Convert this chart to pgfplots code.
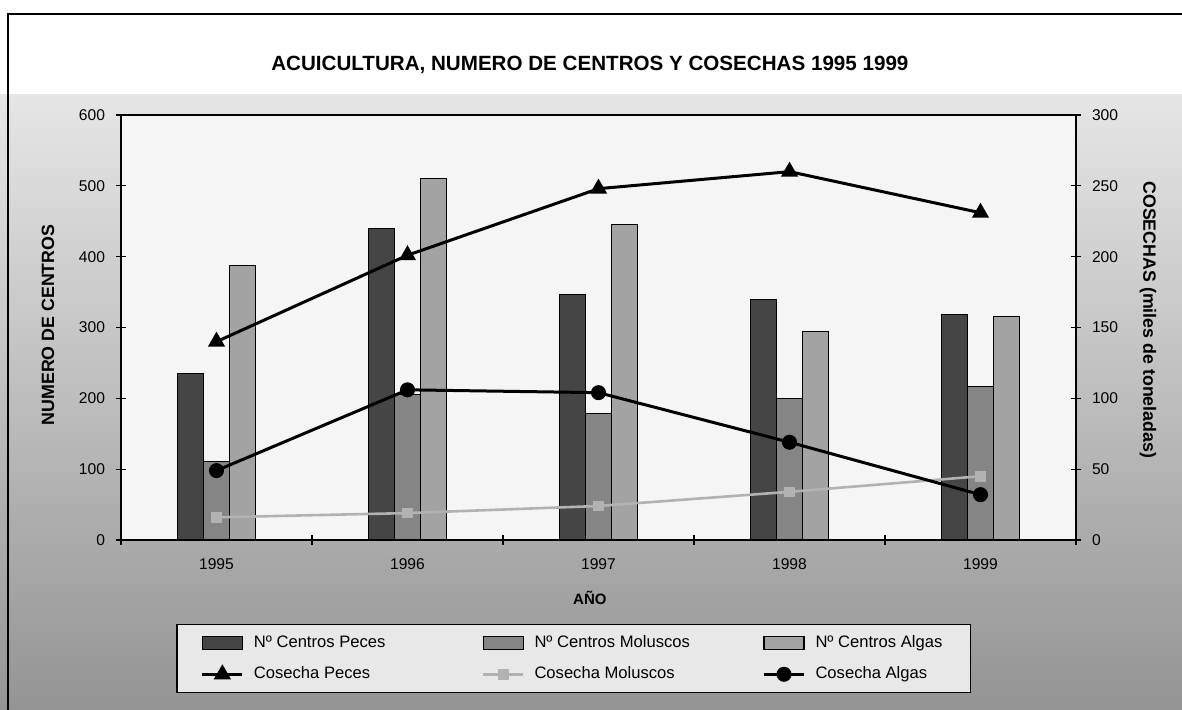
\documentclass[border=0pt]{standalone}
\usepackage{pgfplots}
\pgfplotsset{compat=1.18}
\usepackage{fontspec}
\setmainfont{Liberation Sans}
\definecolor{cPeces}{gray}{0.27}
\definecolor{cMol}{gray}{0.52}
\definecolor{cAlg}{gray}{0.64}
\definecolor{cLMol}{gray}{0.70}
\pgfplotsset{
  barleg/.style={legend image code/.code={\draw[##1] (0pt,-3.25pt) rectangle (20pt,3.25pt);}},
  linleg/.style={legend image code/.code={\draw[##1,mark repeat=2,mark phase=2] plot coordinates {(0pt,0pt)(10pt,0pt)(20pt,0pt)};}},
}
\begin{document}
\begin{tikzpicture}[x=1pt,y=1pt]
\useasboundingbox (0,0) rectangle (591,355);
\fill[white] (0,0) rectangle (591,355);
\shade[top color=black!10, bottom color=black!42] (0,0) rectangle (591,307.5);
\draw[line width=1pt] (4,0) -- (4,348) -- (591,348);

\begin{axis}[
  at={(60.5pt,85pt)}, anchor=south west, scale only axis,
  width=477.5pt, height=212.5pt,
  xmin=-0.5, xmax=4.5, ymin=0, ymax=600,
  axis background/.style={fill=black!4},
  axis line style={line width=0.8pt},
  ybar=0pt, bar width=13pt,
  xtick={-0.5,0.5,1.5,2.5,3.5,4.5},
  xticklabels={1995,1996,1997,1998,1999},
  x tick label as interval,
  ytick={0,100,...,600},
  tick pos=left,
  tick align=center, major tick length=5pt,
  tick style={black, line width=0.6pt},
  /pgf/number format/assume math mode=true,
  ticklabel style={font=\fontsize{7.8}{9}\selectfont},
  x tick label style={yshift=-3.5pt},
  yticklabel style={xshift=-2pt},
  title={\textbf{ACUICULTURA, NUMERO DE CENTROS Y COSECHAS 1995 1999}},
  title style={at={(axis description cs:0.491,1.09)}, anchor=center, yshift=0pt, font=\fontsize{10.3}{12}\selectfont},
  xlabel={\textbf{AÑO}},
  xlabel style={at={(axis description cs:0.491,-0.136)}, anchor=center, font=\fontsize{7.5}{9}\selectfont},
  ylabel={\textbf{NUMERO DE CENTROS}},
  ylabel style={at={(axis description cs:-0.0764,0.506)}, anchor=center, rotate=0, font=\fontsize{8.9}{10}\selectfont},
]
\addplot[fill=cPeces, draw=black, line width=0.5pt] coordinates {(0,235)(1,440)(2,346)(3,340)(4,318)};
\addplot[fill=cMol, draw=black, line width=0.5pt] coordinates {(0,111)(1,206)(2,178)(3,200)(4,217)};
\addplot[fill=cAlg, draw=black, line width=0.5pt] coordinates {(0,388)(1,511)(2,445)(3,295)(4,316)};
\end{axis}

\begin{axis}[
  at={(60.5pt,85pt)}, anchor=south west, scale only axis,
  width=477.5pt, height=212.5pt,
  xmin=-0.5, xmax=4.5, ymin=0, ymax=300,
  axis x line=none, axis y line*=right,
  axis line style={line width=0.8pt},
  ytick={0,50,...,300},
  tick align=center, major tick length=5pt,
  tick style={black, line width=0.6pt},
  /pgf/number format/assume math mode=true,
  ticklabel style={font=\fontsize{7.8}{9}\selectfont},
  yticklabel style={xshift=2pt},
  ylabel={\textbf{COSECHAS (miles de toneladas)}},
  ylabel style={at={(axis description cs:1.0754,0.518)}, anchor=center, rotate=180, font=\fontsize{8.9}{10}\selectfont},
  linleg,
  legend columns=3,
  legend style={at={(0.474,-0.198)}, anchor=north, draw=black, line width=0.6pt, fill=black!9,
    font=\fontsize{8.3}{10}\selectfont, inner xsep=12pt, inner ysep=3.5pt,
    /tikz/every odd column/.append style={column sep=3pt},
    /tikz/every even column/.append style={column sep=0pt},
    row sep=4pt},
  legend cell align=left,
  legend entries={\makebox[112pt][l]{Nº Centros Peces},\makebox[112pt][l]{Nº Centros Moluscos},Nº Centros Algas,
    Cosecha Peces,Cosecha Moluscos,Cosecha Algas},
]
\addlegendimage{barleg, fill=cPeces, draw=black}
\addlegendimage{barleg, fill=cMol, draw=black}
\addlegendimage{barleg, fill=cAlg, draw=black}
\addplot[black, line width=1.5pt, mark=triangle*, mark size=3.5pt] coordinates {(0,140)(1,201)(2,248)(3,260)(4,231)};
\addplot[cLMol, line width=1.3pt, mark=square*, mark size=2pt] coordinates {(0,16)(1,19)(2,24)(3,34)(4,45)};
\addplot[black, line width=1.5pt, mark=*, mark size=3pt] coordinates {(0,49)(1,106)(2,104)(3,69)(4,32)};
\end{axis}
\end{tikzpicture}
\end{document}
